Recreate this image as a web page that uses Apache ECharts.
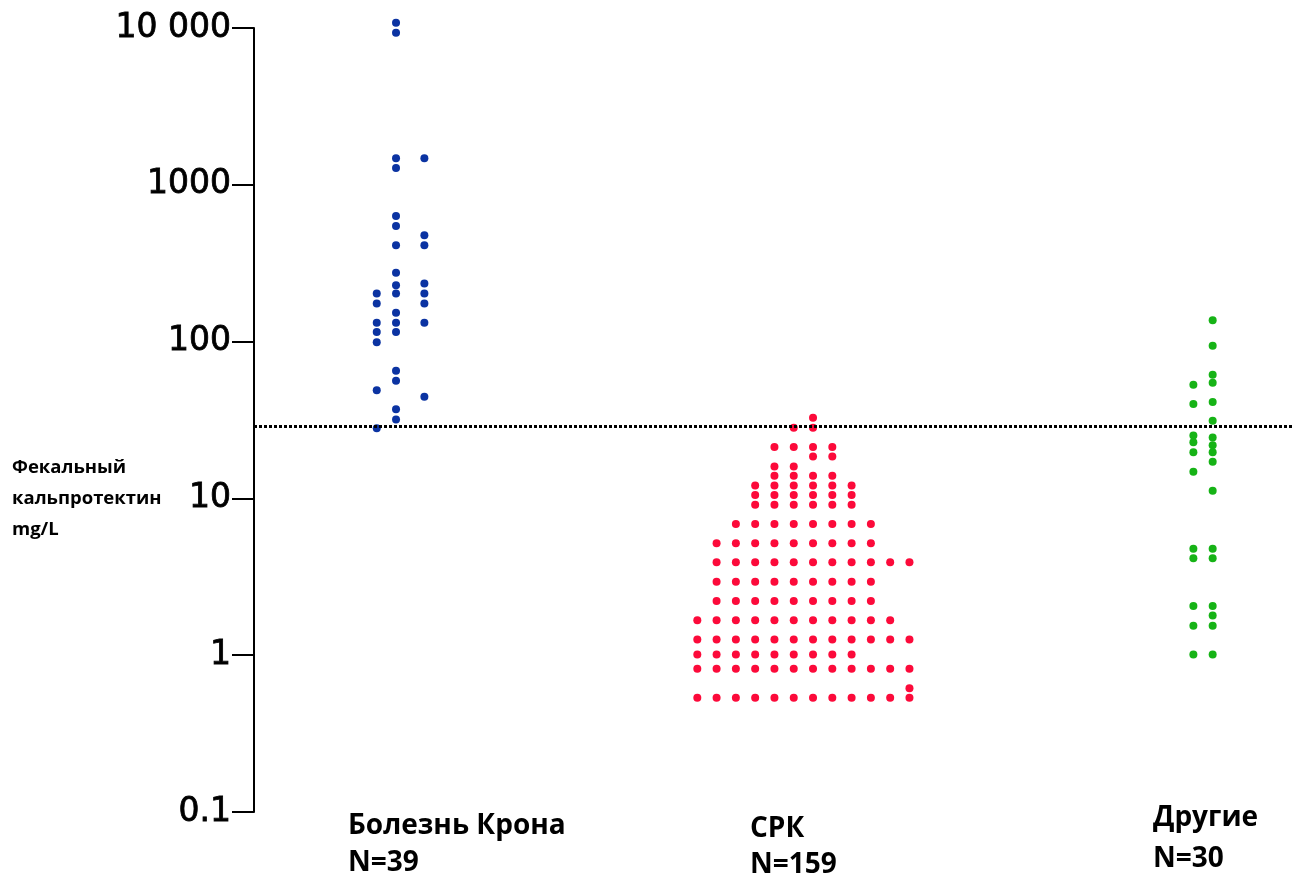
<!DOCTYPE html>
<html>
<head>
<meta charset="utf-8">
<script src="https://cdn.jsdelivr.net/npm/echarts@6/dist/echarts.min.js"></script>
<style>
  html, body { margin: 0; padding: 0; background: #fff; }
  #chart { width: 1293px; height: 876px; }
</style>
</head>
<body>
<div id="chart"></div>
<script>
// группы
var groupNames = ['Болезнь Крона\nN=39', 'СРК\nN=159', 'Другие\nN=30'];
var yTickLabels = ['0.1', '1', '10', '100', '1000', '10 000'];
var cutoff = 29;

// Болезнь Крона, по столбикам
var crohnCol1 = [203, 175, 132, 115, 99, 48.9, 28];
var crohnCol2 = [10800, 9330, 1476, 1280, 632, 546, 411, 275, 229, 203, 153, 132, 115, 65.2, 56.3, 37, 31.9];
var crohnCol3 = [1476, 476, 411, 235, 203, 175, 132, 44.5];

// СРК: уровень и диапазон столбиков (0..11)
var srkLevels = [32.7, 28.2, 21.3, 18.5, 16.0, 13.95, 12.1, 10.5, 9.1, 6.87, 5.17, 3.91, 2.94, 2.22, 1.67, 1.26, 1.01, 0.82, 0.615, 0.536];
var srkFrom   = [6, 5, 4, 6, 4, 4, 3, 3, 3, 2, 1, 1, 1, 1, 0, 0, 0, 0, 11, 0];
var srkTo     = [6, 6, 7, 7, 5, 7, 8, 8, 8, 9, 9, 11, 9, 9, 10, 11, 8, 11, 11, 11];

// Другие
var otherCol1 = [53.1, 40.0, 25.2, 22.8, 19.7, 14.8, 4.78, 4.15, 2.06, 1.54, 1.01];
var otherCol2 = [137, 94, 61.5, 54.7, 41.2, 31.3, 24.5, 21.8, 19.7, 17.1, 11.2, 4.78, 4.15, 2.06, 1.79, 1.54, 1.01];

var colStep = 0.0478;

function column(values, center, offset) {
    return values.map(function (v) { return [center + offset * colStep, v]; });
}

var crohnData = [].concat(
    column(crohnCol1, 1, -1),
    column(crohnCol2, 1, 0),
    column(crohnCol3, 1, 1.47)
);

var srkData = [];
srkLevels.forEach(function (v, i) {
    for (var c = srkFrom[i]; c <= srkTo[i]; c++) {
        srkData.push([2 + (c - 5.3) * colStep, v]);
    }
});

var otherData = [].concat(
    column(otherCol1, 3, -0.5),
    column(otherCol2, 3, 0.5)
);

var myChart = echarts.init(document.getElementById('chart'));

var labelFont = 'bold 28px "Open Sans"';

myChart.setOption({
    animation: false,
    grid: { left: 254, right: 0, top: 28, bottom: 64 },
    xAxis: { type: 'value', min: 0.648, max: 3.223, show: false },
    yAxis: {
        type: 'log',
        logBase: 10,
        min: 0.1,
        max: 10000,
        axisLine: { show: true, lineStyle: { color: '#000', width: 2 } },
        axisTick: { show: true, length: 22, lineStyle: { color: '#000', width: 2 } },
        minorTick: { show: false },
        splitLine: { show: false },
        axisLabel: {
            margin: 23,
            color: '#000',
            fontFamily: 'DejaVu Sans',
            fontSize: 33,
            textBorderColor: '#000',
            textBorderWidth: 0.8,
            formatter: function (v) {
                return yTickLabels[Math.round(Math.log10(v)) + 1];
            }
        }
    },
    graphic: [
        {
            type: 'text', left: 12, top: 452,
            style: { text: 'Фекальный\nкальпротектин\nmg/L', font: 'bold 18.5px "Open Sans"', lineHeight: 31, fill: '#000' }
        },
        {
            type: 'text', left: 348, top: 808,
            style: { text: groupNames[0], font: labelFont, lineHeight: 37, fill: '#000' }
        },
        {
            type: 'text', left: 750, top: 811,
            style: { text: groupNames[1], font: labelFont, lineHeight: 36, fill: '#000' }
        },
        {
            type: 'text', left: 1153, top: 798,
            style: { text: groupNames[2], font: labelFont, lineHeight: 41, fill: '#000' }
        }
    ],
    series: [
        {
            type: 'scatter', data: crohnData, symbolSize: 8, clip: false,
            itemStyle: { color: '#0b33a2', opacity: 1 }
        },
        {
            type: 'scatter', data: srkData, symbolSize: 8, clip: false,
            itemStyle: { color: '#fc0a3a', opacity: 1 }
        },
        {
            type: 'scatter', data: otherData, symbolSize: 8, clip: false,
            itemStyle: { color: '#16b316', opacity: 1 }
        },
        {
            type: 'line', data: [], z: 10,
            markLine: {
                silent: true,
                symbol: 'none',
                label: { show: false },
                lineStyle: { color: '#000', width: 3, type: [3, 2] },
                data: [{ yAxis: cutoff }]
            }
        }
    ]
});
</script>
</body>
</html>
